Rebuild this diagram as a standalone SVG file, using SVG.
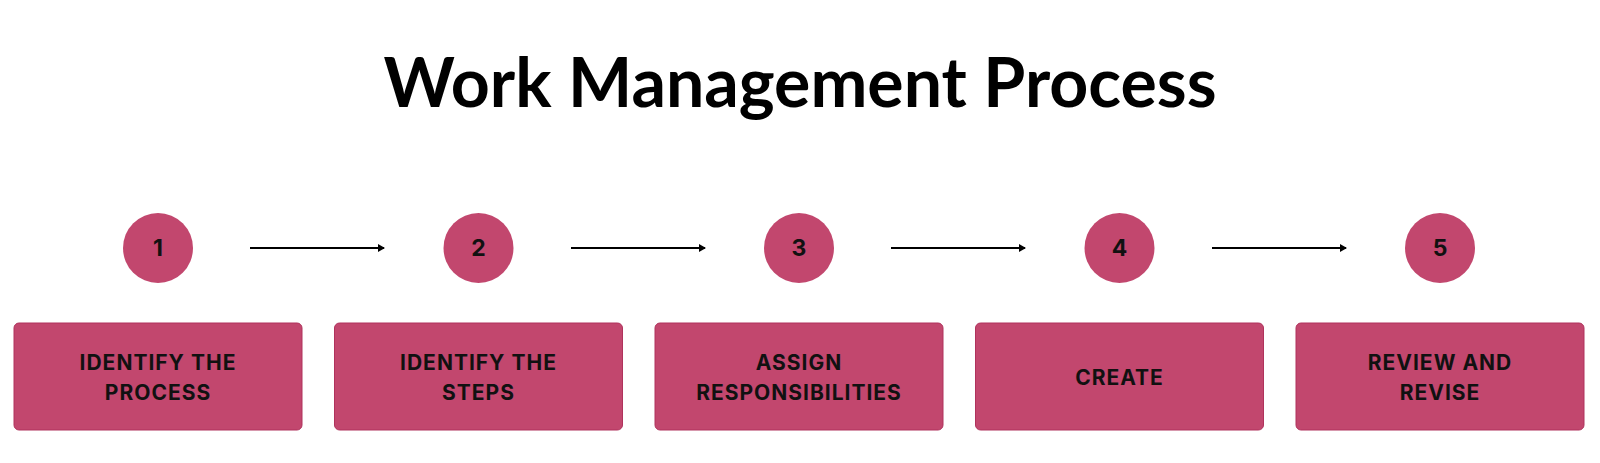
<svg xmlns="http://www.w3.org/2000/svg" width="1600" height="463" viewBox="0 0 1600 463">
<style>
.c{fill:#C2476E}
.b{fill:#C2476E;stroke:#B0325C;stroke-width:1}
.t{font-family:Inter,"Liberation Sans",sans-serif;font-weight:700;font-size:21px;fill:#111;text-anchor:middle;letter-spacing:1px}
.n{font-family:Inter,"Liberation Sans",sans-serif;font-weight:700;font-size:23px;fill:#111;text-anchor:middle}
.a{stroke:#000;stroke-width:2;fill:none;marker-end:url(#m)}
</style>
<defs><marker id="m" markerWidth="8" markerHeight="8" refX="6" refY="4" orient="auto" markerUnits="userSpaceOnUse"><path d="M0,0L7,4L0,8z" fill="#000"/></marker></defs>
<rect width="1600" height="463" fill="#fff"/>
<text x="800" y="107" font-family="Lato,'Liberation Sans',sans-serif" font-weight="700" font-size="68" text-anchor="middle" fill="#000">Work Management Process</text>
<g id="connectors">
<line class="a" x1="250" y1="248" x2="384" y2="248"/>
<line class="a" x1="571" y1="248" x2="705" y2="248"/>
<line class="a" x1="891" y1="248" x2="1025" y2="248"/>
<line class="a" x1="1212" y1="248" x2="1346" y2="248"/>
</g>
<g id="n1"><circle class="c" cx="158" cy="248" r="35"/><text class="n" x="158" y="256">1</text>
<rect class="b" x="14" y="323" width="288" height="107" rx="5"/><text class="t" x="158" y="370">IDENTIFY THE</text><text class="t" x="158" y="400">PROCESS</text></g>
<g id="n2"><circle class="c" cx="478.5" cy="248" r="35"/><text class="n" x="478.5" y="256">2</text>
<rect class="b" x="334.5" y="323" width="288" height="107" rx="5"/><text class="t" x="478.5" y="370">IDENTIFY THE</text><text class="t" x="478.5" y="400">STEPS</text></g>
<g id="n3"><circle class="c" cx="799" cy="248" r="35"/><text class="n" x="799" y="256">3</text>
<rect class="b" x="655" y="323" width="288" height="107" rx="5"/><text class="t" x="799" y="370">ASSIGN</text><text class="t" x="799" y="400">RESPONSIBILITIES</text></g>
<g id="n4"><circle class="c" cx="1119.5" cy="248" r="35"/><text class="n" x="1119.5" y="256">4</text>
<rect class="b" x="975.5" y="323" width="288" height="107" rx="5"/><text class="t" x="1119.5" y="385">CREATE</text></g>
<g id="n5"><circle class="c" cx="1440" cy="248" r="35"/><text class="n" x="1440" y="256">5</text>
<rect class="b" x="1296" y="323" width="288" height="107" rx="5"/><text class="t" x="1440" y="370">REVIEW AND</text><text class="t" x="1440" y="400">REVISE</text></g>
</svg>
